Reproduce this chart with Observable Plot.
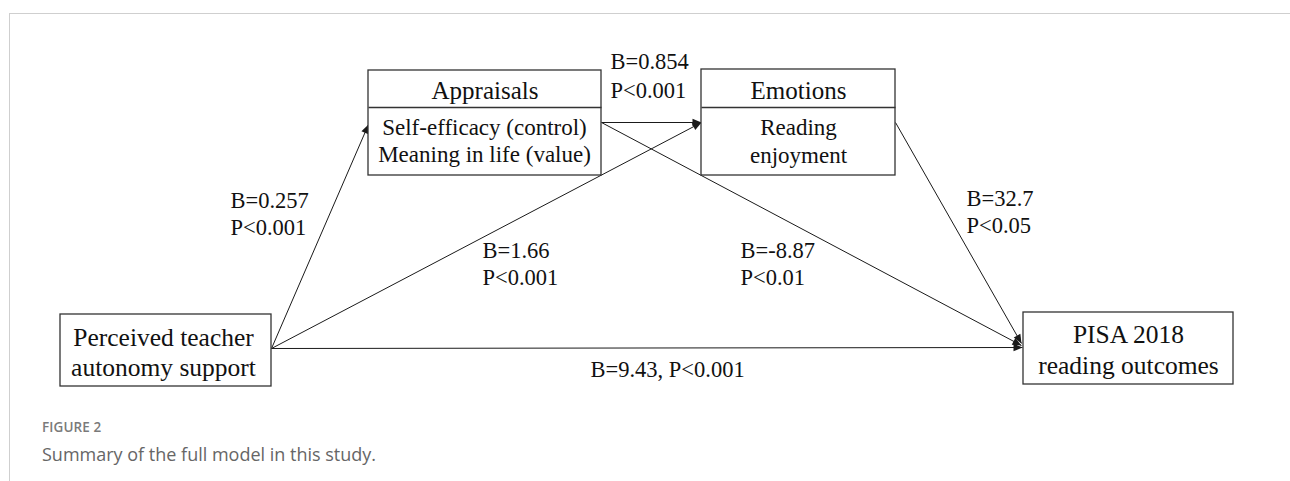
<!DOCTYPE html>
<html>
<head>
<meta charset="utf-8">
<script src="https://cdn.jsdelivr.net/npm/d3@7"></script>
<script src="https://cdn.jsdelivr.net/npm/@observablehq/plot@0.6"></script>
<style>
  html, body { margin: 0; padding: 0; background: #fff; width: 1290px; height: 481px; overflow: hidden; }
  #frame { position: absolute; left: 9px; top: 13px; width: 1281px; height: 468px;
           border-top: 1.5px solid #cfcfcf; border-left: 1.5px solid #cfcfcf; }
  #chart { position: absolute; left: 0; top: 0; }
  .figlabel { position: absolute; left: 42px; top: 418px; font-family: "Open Sans", sans-serif;
              font-size: 13.5px; font-weight: 600; color: #7a7a7a; letter-spacing: 0.1px; }
  .figcap { position: absolute; left: 42px; top: 442px; font-family: "Open Sans", sans-serif;
            font-size: 18px; color: #666; }
</style>
</head>
<body>
<div id="frame"></div>
<div id="chart"></div>
<div class="figlabel">FIGURE 2</div>
<div class="figcap">Summary of the full model in this study.</div>
<script>
// ---- data ----
const nodeIds = ["appraisals", "emotions", "teacher", "pisa"];
const nodeHeaders = ["Appraisals", "Emotions", null, null];
const nodeLines = [
  ["Self-efficacy (control)", "Meaning in life (value)"],
  ["Reading", "enjoyment"],
  ["Perceived teacher", "autonomy support"],
  ["PISA 2018", "reading outcomes"]
];
const pathFrom = ["teacher", "teacher", "appraisals", "teacher", "appraisals", "emotions"];
const pathTo   = ["appraisals", "emotions", "emotions", "pisa", "pisa", "pisa"];
const pathB = ["B=0.257", "B=1.66", "B=0.854", "B=9.43", "B=-8.87", "B=32.7"];
const pathP = ["P<0.001", "P<0.001", "P<0.001", "P<0.001", "P<0.01", "P<0.05"];

// ---- layout (diagram coordinates) ----
const boxX1 = [368, 701, 60, 1023];
const boxX2 = [601, 895, 271, 1233];
const boxY1 = [70, 69, 314, 312];
const boxY2 = [175, 175, 386, 384];
const boxDivider = [107, 107, null, null];
const pathStart = [[271, 348], [271, 348], [601, 122], [271, 348], [601, 122], [895, 122]];
const pathEnd = [[368, 124], [701, 122], [701, 122], [1022, 347], [1021, 345], [1021, 343]];
const labelPos = [[230, 207], [482, 257], [610, 68], [590, 376], [740, 257], [966, 205]];

// ---- build tables ----
const boxes = nodeIds.map((id, i) => ({id, x1: boxX1[i], x2: boxX2[i], y1: boxY1[i], y2: boxY2[i]}));
const dividers = nodeIds.map((id, i) => ({x1: boxX1[i], x2: boxX2[i], y: boxDivider[i]})).filter(d => d.y != null);
const headerText = nodeIds.map((id, i) => ({text: nodeHeaders[i], x: (boxX1[i] + boxX2[i]) / 2, y: 98})).filter(d => d.text);
const bodyBaselines = [[134, 161], [134, 162], [345, 375], [342, 373]];
const bodyCenters = [484, 798, 163, 1128];
const bodySizes = [23, 23, 25.5, 25.5];
const bodyText = [];
nodeLines.forEach((lines, i) => lines.forEach((t, j) => bodyText.push({text: t, x: bodyCenters[i], y: bodyBaselines[i][j], size: bodySizes[i]})));
const paths = pathFrom.map((f, i) => ({from: f, to: pathTo[i], x1: pathStart[i][0], y1: pathStart[i][1], x2: pathEnd[i][0], y2: pathEnd[i][1]}));
const labels = [];
pathB.forEach((b, i) => {
  if (pathTo[i] === "pisa" && pathFrom[i] === "teacher") {
    labels.push({text: `${b}, ${pathP[i]}`, x: labelPos[i][0], y: labelPos[i][1]});
  } else {
    const gap = pathFrom[i] === "appraisals" && pathTo[i] === "emotions" ? 29 : 27.5;
    labels.push({text: b, x: labelPos[i][0], y: labelPos[i][1]});
    labels.push({text: pathP[i], x: labelPos[i][0], y: labelPos[i][1] + gap});
  }
});

function filledArrow(color, context) {
  return d3.create("svg:marker")
    .attr("viewBox", "-10 -5 10 10")
    .attr("markerWidth", 10)
    .attr("markerHeight", 10)
    .attr("markerUnits", "userSpaceOnUse")
    .attr("refX", 0)
    .attr("refY", 0)
    .attr("orient", "auto")
    .attr("fill", color)
    .attr("stroke", "none")
    .call(m => m.append("path").attr("d", "M-9,-3.8L0,0L-9,3.8Z"))
    .node();
}

const chart = Plot.plot({
  width: 1290,
  height: 400,
  margin: 0,
  style: {fontFamily: "'Liberation Serif', 'Times New Roman', serif", background: "transparent"},
  x: {type: "linear", domain: [0, 1290], range: [0, 1290], axis: null},
  y: {type: "linear", domain: [0, 400], range: [0, 400], axis: null},
  marks: [
    Plot.link(paths, {x1: "x1", y1: "y1", x2: "x2", y2: "y2", stroke: "#1a1a1a", strokeWidth: 1, markerEnd: filledArrow}),
    Plot.rect(boxes, {x1: "x1", x2: "x2", y1: "y1", y2: "y2", fill: "white", stroke: "#333", strokeWidth: 1.3}),
    Plot.link(dividers, {x1: "x1", x2: "x2", y1: "y", y2: "y", stroke: "#333", strokeWidth: 1.3}),
    Plot.text(headerText, {x: "x", y: "y", text: "text", fontSize: 25, lineAnchor: "bottom", textAnchor: "middle", fill: "#111"}),
    Plot.text(bodyText, {x: "x", y: "y", text: "text", fontSize: d => d.size, lineAnchor: "bottom", textAnchor: "middle", fill: "#111"}),
    Plot.text(labels, {x: "x", y: "y", text: "text", fontSize: 22.5, lineAnchor: "bottom", textAnchor: "start", fill: "#111"})
  ]
});
document.getElementById("chart").appendChild(chart);
</script>
</body>
</html>
